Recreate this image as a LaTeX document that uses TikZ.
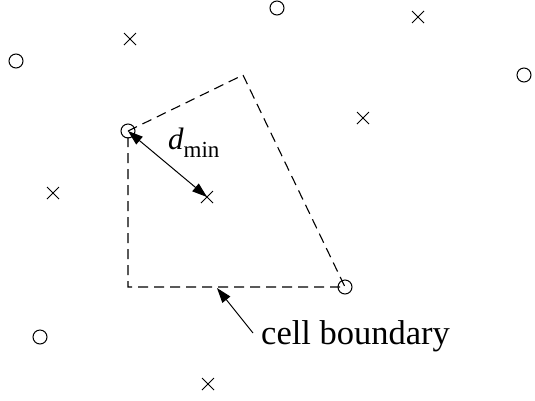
\documentclass[tikz,border=0pt]{standalone}
\usepackage{fontspec}
\setmainfont{Liberation Serif}
\usetikzlibrary{shapes.misc,arrows.meta}
\begin{document}
\begin{tikzpicture}[x=1pt,y=-1pt,
  site/.style={circle,draw,line width=1pt,minimum size=14pt,inner sep=0pt},
  pt/.style={cross out,draw,line width=1pt,minimum size=11pt,inner sep=0pt},
  boundary/.style={line width=1.1pt,dash pattern=on 10pt off 6pt},
  lbl/.style={inner sep=0pt},
  ptr/.style={line width=1pt,-{Triangle[length=15pt,width=10pt]}}]
\useasboundingbox (0,0) rectangle (535,400);
% sites
\node[site] (c1) at (277,8) {};
\node[site] (c2) at (16,61) {};
\node[site] (c3) at (524,75) {};
\node[site] (c4) at (128,131) {};
\node[site] (c5) at (345,287) {};
\node[site] (c6) at (40,337) {};
% points
\node[pt] (x1) at (130,39) {};
\node[pt] (x2) at (418,17) {};
\node[pt] (x3) at (363,118) {};
\node[pt] (x4) at (53,193) {};
\node[pt] (x5) at (207,197) {};
\node[pt] (x6) at (208,384) {};
% cell
\coordinate (v1) at (243,75);
\coordinate (v2) at (128,287);
\draw[boundary] (c4.center) -- (v1) -- (c5.center) -- (v2) -- cycle;
% d_min
\draw[line width=1pt,{Triangle[length=15pt,width=10pt]}-{Triangle[length=15pt,width=10pt]}] (c4.center) -- (x5.center);
\node[lbl,anchor=base west] (dl) at (168,149) {\fontsize{31}{31}\selectfont\itshape d\fontsize{23}{23}\selectfont\upshape\raisebox{-8pt}{min}};
% cell boundary label
\node[lbl,anchor=base west] (cb) at (261,344) {\fontsize{34.5}{34.5}\selectfont cell boundary};
\coordinate (tip) at (217,288);
\draw[ptr] (253,333) -- (tip);
\end{tikzpicture}
\end{document}
